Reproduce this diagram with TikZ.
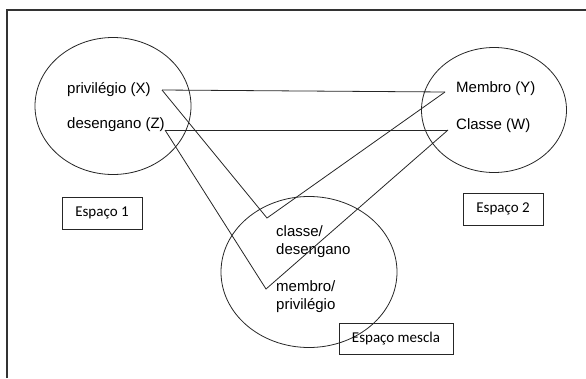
\documentclass[tikz,border=0pt]{standalone}
\usepackage{fontspec}
\setmainfont{Liberation Sans}
\newfontfamily\boxfont{Carlito}
\usetikzlibrary{shapes.geometric}
\begin{document}
\begin{tikzpicture}[x=1pt,y=-1pt,
  lbl/.style={anchor=west,inner sep=0pt,font=\fontsize{15}{18}\selectfont,text=black},
  space/.style={draw=black!85,ellipse,line width=0.8pt,inner sep=0pt},
  tag/.style={draw=black!85,line width=0.9pt,inner sep=0pt,font=\boxfont\fontsize{15}{18}\selectfont,text=black},
  link/.style={draw=black!85,line width=0.8pt}]
\useasboundingbox (0,0) rectangle (586,378);
\draw[line width=1.1pt,black!80] (7,378) -- (7,10) -- (586,10);
% ellipses
\node[space,minimum width=156pt,minimum height=137pt] (e1) at (113,106) {};
\node[space,minimum width=145pt,minimum height=125pt] (e2) at (494,110) {};
\node[space,minimum width=176pt,minimum height=151pt] (e3) at (309,272) {};
% labels
\node[lbl] (x) at (67,90) {privilégio (X)};
\node[lbl] (z) at (67,125) {desengano (Z)};
\node[lbl] (y) at (456,89) {Membro (Y)};
\node[lbl] (w) at (456,126) {Classe (W)};
\node[lbl,align=left] (cd) at (276,242) {classe/\\desengano};
\node[lbl,align=left] (mp) at (276,297) {membro/\\privilégio};
% boxes
\node[tag,minimum width=80pt,minimum height=32pt] (s1) at (102,213) {Espaço 1};
\node[tag,minimum width=80pt,minimum height=32pt] (s2) at (503,209) {Espaço 2};
\node[tag,minimum width=114pt,minimum height=31pt] (sm) at (396,338.5) {Espaço mescla};
% connector points
\coordinate (px) at (162,90);
\coordinate (pz) at (165,130);
\coordinate (py) at (445,92);
\coordinate (pw) at (448,130);
\coordinate (ca) at (267,218);
\coordinate (cb) at (266,289);
% connectors
\draw[link] (px) -- (py);
\draw[link] (pz) -- (pw);
\draw[link] (px) -- (ca) -- (py);
\draw[link] (pz) -- (cb) -- (pw);
\end{tikzpicture}
\end{document}
